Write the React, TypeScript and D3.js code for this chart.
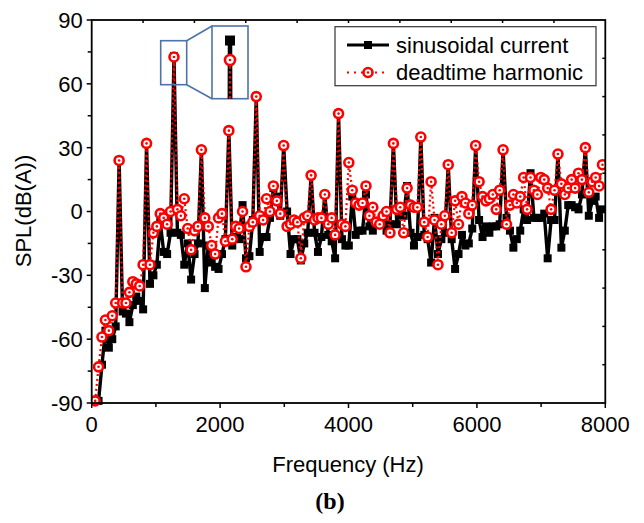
import React from "react";
import * as d3 from "d3";

// SPL spectrum, one value per FFT bin (bin step ~53.4 Hz, bins 1..149)
const binStep = 53.4;

const sinusoidal: (number | null)[] = [
  null, -89, -72, -56, -64, -60, -54, 24, -47, -48,
  -52, -44, -40, -42, -46, 32, -34, -30, -25, -5,
  -19, -20, -10, 73, -10, -11, -25, -15, -32, -20,
  -15, 29, -36, -16, -24, -26, -27, -20, -13, 38,
  -16, -12, -13, 3, -22, -21, -4, 54, -19, -12,
  -12, -3, 11, 7, -2, 31, 0, -20, -13, -13,
  -23, -15, -10, 17, -10, -19, -12, 8, -11, -14,
  -22, 46, -13, -16, -16, 7, -11, -9, -9, 8,
  -7, -9, -6, -6, -6, -9, -6, 32, -6, 1,
  -2, 12, -10, -16, -12, 35, -11, -13, -24, -3,
  -20, -13, -10, 22, -13, -27, -20, -11, -16, -15,
  -8, 31, -4, -12, -7, -10, -7, -7, -6, 29,
  -3, -9, -17, -13, -9, 1, -4, 18, -3, -3,
  -3, -1, -22, -4, -4, 27, -17, -9, 3, 3,
  2, 1, 8, 30, -2, 5, 7, -3, 1,
];

const deadtime: number[] = [
  -89, -73, -59, -51, -56, -49, -43, 24, -43, -43,
  -38, -33, -34, -35, -25, 32, -25, -10, -7, -1,
  -3, -6, 0, 72.6, 1, -2, 6, -8, -18, -9,
  -7, 29, -3, -7, -16, -20, -3, -1, -14, 38,
  -13, -7, -8, 0, -26, -7, -5, 54, -2, -4,
  6, 0, 12, 5, -1, 31, -7, -6, -4, -5,
  -22, -3, -2, 17, -4, -3, -3, 8, -6, -3,
  -11, 46, -6, -7, 23, 10, 4, 3, 4, 12,
  -2, 2, -5, -6, -2, 0, -10, 32, 1, 2,
  -10, 11, 3, 2, 2, 35, -5, -12, 14, -4,
  -25, -6, -2, 22, -10, 5, -6, 7, 4, -1,
  3, 31, 14, 7, 5, 6, 8, 1, 10, 29,
  -6, 3, 8, 4, 7, 16, 1, 16, 10, 8,
  16, 15, 11, 1, 10, 27, 13, 8, 11, 15,
  11, 18, 15, 30, 9, 14, 16, 12, 22,
];

const xTicks = [0, 2000, 4000, 6000, 8000];
const xMinorTicks = [1000, 3000, 5000, 7000];
const yTicks = [-90, -60, -30, 0, 30, 60, 90];
const yMinorTicks = [-75, -45, -15, 15, 45, 75];
const seriesNames = ["sinusoidal current", "deadtime harmonic"];
const zoomBin = 24; // the peak blown up in the inset

const W = 644;
const H = 523;
const left = 91.7, right = 605.3, top = 20, bottom = 403;
const FONT = "Liberation Sans, Arial, sans-serif";

type Pt = { f: number; v: number };

const toPts = (arr: (number | null)[]): Pt[] =>
  arr.map((v, i) => ({ f: (i + 1) * binStep, v: v as number })).filter((d) => d.v !== null);

const Square = ({ x, y, s = 8 }: { x: number; y: number; s?: number }) => (
  <rect x={x - s / 2} y={y - s / 2} width={s} height={s} fill="#000" />
);

const Ring = ({ x, y, r = 4.5 }: { x: number; y: number; r?: number }) => (
  <g>
    <circle cx={x} cy={y} r={r} fill="#fff" stroke="#f00" strokeWidth={2.6} />
    <circle cx={x} cy={y} r={1.3} fill="#f00" />
  </g>
);

export default function App() {
  const x = d3.scaleLinear().domain([0, 8000]).range([left, right]);
  const y = d3.scaleLinear().domain([-90, 90]).range([bottom, top]);

  const blackPts = toPts(sinusoidal);
  const redPts = toPts(deadtime);

  const line = d3
    .line<Pt>()
    .x((d) => x(d.f))
    .y((d) => y(d.v));

  // inset: small box on the peak, blown-up box to the right
  const small = { x0: 160.7, y0: 40.7, x1: 186.7, y1: 84.7 };
  const big = { x0: 212, y0: 26, x1: 248, y1: 98.7 };
  const peakF = zoomBin * binStep;
  const ix = d3.scaleLinear().domain([peakF - 200, peakF + 200]).range([big.x0 - 24, big.x1 + 24]);
  const iy = d3.scaleLinear().domain([71.8, 73.3]).range([big.y1, big.y0]);
  const insetLine = d3
    .line<Pt>()
    .x((d) => ix(d.f))
    .y((d) => iy(d.v));
  const nearPeak = (pts: Pt[]) => pts.filter((d) => Math.abs(d.f - peakF) < binStep * 1.5);
  const blackPeak = blackPts.find((d) => Math.abs(d.f - peakF) < 1)!;
  const redPeak = redPts.find((d) => Math.abs(d.f - peakF) < 1)!;
  const blue = "#4f73a8";

  const topTicks = d3.range(800, 8000, 800);
  const rightTicks = d3.range(-72, 90, 18);

  return (
    <svg
      width={W}
      height={H}
      style={{ position: "absolute", left: 0, top: 0, background: "#fff" }}
      fontFamily={FONT}
    >
      <defs>
        <clipPath id="plot">
          <rect x={left} y={top - 6} width={right - left} height={bottom - top + 12} />
        </clipPath>
        <clipPath id="inset">
          <rect x={big.x0} y={big.y0} width={big.x1 - big.x0} height={big.y1 - big.y0} />
        </clipPath>
      </defs>

      {/* series */}
      <g clipPath="url(#plot)">
        <path d={line(blackPts) || ""} fill="none" stroke="#000" strokeWidth={3.4} strokeLinejoin="round" />
        {blackPts.map((d, i) => (
          <Square key={"b" + i} x={x(d.f)} y={y(d.v)} />
        ))}
        <path
          d={line(redPts) || ""}
          fill="none"
          stroke="#f00"
          strokeWidth={2.2}
          strokeDasharray="2,3"
        />
        {redPts.map((d, i) => (
          <Ring key={"r" + i} x={x(d.f)} y={y(d.v)} />
        ))}
      </g>

      {/* frame */}
      <rect x={left} y={top} width={right - left} height={bottom - top} fill="none" stroke="#000" strokeWidth={1.8} />

      {/* bottom axis */}
      {xTicks.map((t) => (
        <g key={"xt" + t}>
          <line x1={x(t)} x2={x(t)} y1={bottom} y2={bottom + 5} stroke="#000" strokeWidth={1.5} />
          <text x={x(t)} y={bottom + 29} fontSize={22} textAnchor="middle">
            {t}
          </text>
        </g>
      ))}
      {xMinorTicks.map((t) => (
        <line key={"xm" + t} x1={x(t)} x2={x(t)} y1={bottom} y2={bottom + 4} stroke="#000" strokeWidth={1.5} />
      ))}
      {topTicks.map((t) => (
        <line key={"tt" + t} x1={x(t)} x2={x(t)} y1={top} y2={top + 3} stroke="#000" strokeWidth={1.5} />
      ))}

      {/* left axis */}
      {yTicks.map((t) => (
        <g key={"yt" + t}>
          <line x1={left - 5} x2={left} y1={y(t)} y2={y(t)} stroke="#000" strokeWidth={1.5} />
          <text x={left - 9} y={y(t)} dy="0.36em" fontSize={22} textAnchor="end">
            {t}
          </text>
        </g>
      ))}
      {yMinorTicks.map((t) => (
        <line key={"ym" + t} x1={left - 4} x2={left} y1={y(t)} y2={y(t)} stroke="#000" strokeWidth={1.5} />
      ))}
      {rightTicks.map((t) => (
        <line key={"rt" + t} x1={right - 3} x2={right} y1={y(t)} y2={y(t)} stroke="#000" strokeWidth={1.5} />
      ))}

      {/* axis titles */}
      <text x={348} y={472} fontSize={22} textAnchor="middle">
        Frequency (Hz)
      </text>
      <text transform="translate(23,211) rotate(-90)" dy="0.36em" fontSize={22} textAnchor="middle">
        SPL(dB(A))
      </text>
      <text x={330} y={509} fontSize={24} fontWeight="bold" textAnchor="middle" fontFamily="Liberation Serif, Times New Roman, serif">
        (b)
      </text>

      {/* inset */}
      <rect x={small.x0} y={small.y0} width={small.x1 - small.x0} height={small.y1 - small.y0} fill="none" stroke={blue} strokeWidth={1.6} />
      <line x1={small.x1} y1={small.y0} x2={big.x0} y2={big.y0} stroke={blue} strokeWidth={1.6} />
      <line x1={small.x1} y1={small.y1} x2={big.x0} y2={big.y1} stroke={blue} strokeWidth={1.6} />
      <rect x={big.x0} y={big.y0} width={big.x1 - big.x0} height={big.y1 - big.y0} fill="#fff" stroke={blue} strokeWidth={1.6} />
      <g clipPath="url(#inset)">
        <path d={insetLine(nearPeak(blackPts)) || ""} fill="none" stroke="#000" strokeWidth={4.5} />
        <path d={insetLine(nearPeak(redPts)) || ""} fill="none" stroke="#f00" strokeWidth={2} strokeDasharray="2,3" />
        <Square x={ix(blackPeak.f)} y={iy(blackPeak.v)} s={10} />
        <Ring x={ix(redPeak.f)} y={iy(redPeak.v)} r={5} />
      </g>

      {/* legend */}
      <rect x={335} y={26.7} width={261} height={59} fill="#fff" stroke="#333" strokeWidth={1.2} />
      <line x1={347} x2={389} y1={45} y2={45} stroke="#000" strokeWidth={3} />
      <Square x={368} y={45} />
      <text x={396} y={52.5} fontSize={22}>
        {seriesNames[0]}
      </text>
      <line x1={347} x2={389} y1={72.5} y2={72.5} stroke="#f00" strokeWidth={2} strokeDasharray="2,5" />
      <Ring x={368} y={72.5} />
      <text x={396} y={80} fontSize={22}>
        {seriesNames[1]}
      </text>
    </svg>
  );
}
